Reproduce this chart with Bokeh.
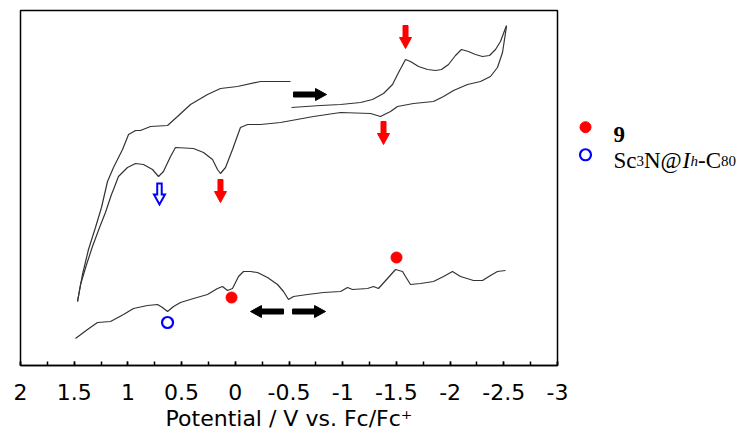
from bokeh.plotting import figure
from bokeh.models import Range1d, FixedTicker
from bokeh.layouts import row
from bokeh.core.properties import value
from bokeh.embed import file_html
from bokeh.resources import INLINE

# ---------------- data ----------------
tick_values = [2, 1.5, 1, 0.5, 0, -0.5, -1, -1.5, -2, -2.5, -3]
tick_labels = ["2", "1.5", "1", "0.5", "0", "-0.5", "-1", "-1.5", "-2", "-2.5", "-3"]
minor_values = [2 - 0.25 * i for i in range(21)]
x_title = "Potential / V vs. Fc/Fc\u207a"

# CV forward scan (-0.5 V -> -2.5 V)
cv_fwd_v = [-0.523, -0.793, -0.980, -1.166, -1.277, -1.380, -1.464, -1.520, -1.585, -1.631,
            -1.706, -1.790, -1.864, -1.920, -1.985, -2.050, -2.106, -2.171, -2.236, -2.302,
            -2.367, -2.423, -2.469, -2.525]
cv_fwd_i = [258, 260, 261, 263, 266, 272, 281, 293, 306, 304,
            299, 296, 295, 296, 301, 310, 316, 314, 311, 309,
            310, 316, 324, 340]

# CV reverse scan (-2.5 V -> +1.5 V)
cv_rev_v = [-2.525, -2.488, -2.441, -2.376, -2.283, -2.162, -2.032, -1.939, -1.845, -1.659,
            -1.510, -1.445, -1.352, -1.259, -0.980, -0.728, -0.523, -0.421, -0.235, -0.114,
            -0.048, 0.026, 0.091, 0.138, 0.166, 0.212, 0.296, 0.389, 0.557, 0.603,
            0.669, 0.715, 0.771, 0.855, 0.929, 1.004, 1.088, 1.134, 1.153, 1.209,
            1.264, 1.330, 1.385, 1.441, 1.469]
cv_rev_i = [339, 313, 298, 289, 284, 281, 275, 269, 264, 262,
            259, 254, 249, 252, 253, 249, 245, 243, 241, 241,
            238, 216, 198, 192, 196, 206, 213, 217, 218, 209,
            194, 189, 196, 201, 202, 198, 189, 176, 171, 153,
            138, 119, 101, 81, 64]

# CV return scan (+1.5 V -> -0.5 V)
cv_ret_v = [1.469, 1.423, 1.367, 1.302, 1.246, 1.190, 1.134, 1.050, 0.994, 0.929,
            0.883, 0.790, 0.631, 0.538, 0.417, 0.259, 0.138, -0.020, -0.235, -0.514]
cv_ret_i = [64, 91, 116, 138, 158, 184, 198, 216, 231, 235,
            235, 239, 240, 249, 261, 271, 277, 279, 284, 284]

# DPV trace
dpv_v = [1.488, 1.376, 1.283, 1.162, 1.041, 0.948, 0.818, 0.724, 0.678, 0.631,
         0.575, 0.510, 0.389, 0.259, 0.166, 0.119, 0.073, 0.026, -0.030, -0.076,
         -0.142, -0.207, -0.300, -0.393, -0.449, -0.495, -0.542, -0.672, -0.821, -0.980,
         -1.045, -1.091, -1.231, -1.287, -1.333, -1.417, -1.492, -1.557, -1.585, -1.631,
         -1.724, -1.845, -1.939, -2.022, -2.097, -2.218, -2.302, -2.376, -2.441, -2.516]
dpv_i = [27, 36, 43, 44, 51, 57, 60, 61, 58, 54,
         59, 63, 67, 71, 77, 79, 75, 77, 89, 94,
         94, 93, 88, 81, 74, 66, 69, 71, 73, 74,
         78, 76, 77, 79, 77, 87, 96, 94, 89, 81,
         82, 84, 89, 94, 89, 85, 85, 90, 94, 95]

# peak markers
comp9_v = [0.035, -1.501]
comp9_i = [68, 108]
ref_v = [0.631]
ref_i = [43]

# annotation arrows (anchor = tail centre)
red_arrow_v = [-1.585, -1.380, 0.138]
red_arrow_i = [340, 244, 186]
blue_arrow_v = [0.706]
blue_arrow_i = [183]
black_arrow_v = [-0.542, -0.449, -0.533]
black_arrow_i = [271, 54, 54]
black_arrow_dir = [1, -1, 1]   # +1 = towards negative potential (rightwards)

# ---------------- figure ----------------
X0, X1 = 2, -3
FRAME_W = 537.0
KX = (X0 - X1) / FRAME_W   # volts per pixel

p = figure(width=575, height=438, x_range=Range1d(X0, X1), y_range=Range1d(0, 355),
           output_backend="svg", toolbar_location=None, y_axis_location=None,
           min_border_left=20, min_border_right=18, min_border_top=10, min_border_bottom=73)
p.outline_line_color = "black"
p.outline_line_width = 1.5
p.xgrid.visible = False
p.ygrid.visible = False
p.background_fill_color = "white"
p.border_fill_color = "white"

ax = p.xaxis[0]
ax.ticker = FixedTicker(ticks=tick_values, minor_ticks=minor_values)
ax.major_label_overrides = {float(t): l for t, l in zip(tick_values, tick_labels)}
ax.axis_label = x_title
ax.axis_label_text_font = "DejaVu Sans"
ax.axis_label_text_font_size = "22px"
ax.axis_label_text_font_style = "normal"
ax.axis_label_text_color = "black"
ax.axis_label_standoff = 3
ax.major_label_text_font = "DejaVu Sans"
ax.major_label_text_font_size = "22px"
ax.major_label_text_color = "black"
ax.major_label_standoff = 18
ax.axis_line_color = "black"
ax.axis_line_width = 1.5
ax.major_tick_in = 4
ax.major_tick_out = 0
ax.minor_tick_in = 4
ax.minor_tick_out = 0
ax.major_tick_line_color = "black"
ax.minor_tick_line_color = "black"
ax.major_tick_line_width = 1.5
ax.minor_tick_line_width = 1.5

LC = "#333333"
LW = 1.2
p.line(cv_fwd_v, cv_fwd_i, line_color=LC, line_width=LW)
p.line(cv_rev_v, cv_rev_i, line_color=LC, line_width=LW)
p.line(cv_ret_v, cv_ret_i, line_color=LC, line_width=LW)
p.line(dpv_v, dpv_i, line_color=LC, line_width=LW)

p.scatter(comp9_v, comp9_i, size=11, marker="circle", fill_color="#ff0000", line_color="#ff0000")
p.scatter(ref_v, ref_i, size=11, marker="circle", fill_color=None, line_color="#0000ff", line_width=2.2)


def down_arrow(v, i, sw, sl, hw, hl):
    dx = [-sw / 2, sw / 2, sw / 2, hw / 2, 0, -hw / 2, -sw / 2]
    dy = [0, 0, sl, sl, sl + hl, sl, sl]
    return [v - d * KX for d in dx], [i - d for d in dy]


def side_arrow(v, i, direction, sw, sl, hw, hl):
    dx = [0, sl, sl, sl + hl, sl, sl, 0]
    dy = [-sw / 2, -sw / 2, -hw / 2, 0, hw / 2, sw / 2, sw / 2]
    return [v - direction * d * KX for d in dx], [i - d for d in dy]


for v, i in zip(red_arrow_v, red_arrow_i):
    xs, ys = down_arrow(v, i, 5, 12, 12, 11)
    p.patch(xs, ys, fill_color="#ff0000", line_color="#ff0000", line_width=1)

for v, i in zip(blue_arrow_v, blue_arrow_i):
    xs, ys = down_arrow(v, i - 1, 4.5, 11, 11, 10)
    p.patch(xs, ys, fill_color="white", line_color="#0000ff", line_width=2, line_join="miter")

for v, i, d in zip(black_arrow_v, black_arrow_i, black_arrow_dir):
    xs, ys = side_arrow(v, i, d, 5, 22, 12, 11)
    p.patch(xs, ys, fill_color="black", line_color="black", line_width=1)

# ---------------- legend panel ----------------
q = figure(width=170, height=438, x_range=Range1d(575, 745), y_range=Range1d(438, 0),
           output_backend="svg", toolbar_location=None,
           x_axis_location=None, y_axis_location=None, min_border=0)
q.outline_line_color = None
q.grid.visible = False
q.background_fill_color = "white"
q.border_fill_color = "white"

q.scatter([585], [144], size=11, marker="circle", fill_color="#ff0000", line_color="#ff0000")
q.scatter([585], [178], size=11, marker="circle", fill_color=None, line_color="#0000ff", line_width=2.2)

SERIF = value("Liberation Serif")


def piece(x, y, txt, size, style="normal"):
    q.text(x=[x], y=[y], text=[txt], text_font=SERIF, text_font_size=size,
           text_font_style=style, text_baseline="alphabetic", text_align="left",
           text_color="black")


piece(613, 153, "9", "23px", "bold")
piece(613, 185, "Sc", "23px")
piece(636, 186, "3", "15px")
piece(643.5, 185, "N@", "23px")
piece(682, 185, "I", "23px", "italic")
piece(690, 186, "h", "15px", "italic")
piece(697.5, 185, "-C", "23px")
piece(720.5, 186, "80", "15px")

layout = row(p, q)
open("out.html", "w").write(file_html(layout, INLINE))
